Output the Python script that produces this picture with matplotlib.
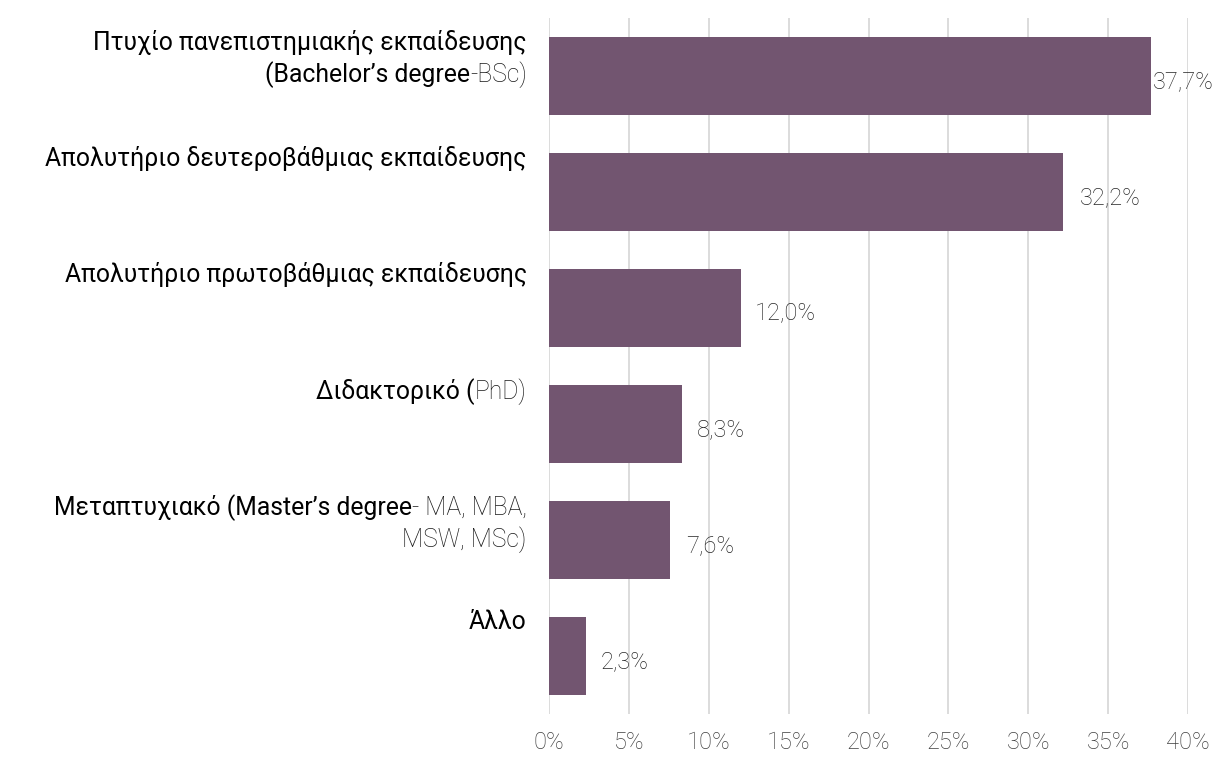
import matplotlib
matplotlib.use("Agg")
import matplotlib.pyplot as plt
from matplotlib.offsetbox import TextArea, HPacker, VPacker, AnnotationBbox

# ---- data ----
categories = [
    [[("Πτυχίο πανεπιστημιακής εκπαίδευσης", "r")],
     [("(Bachelor’s degree", "r"), ("-BSc)", "l")]],
    [[("Απολυτήριο δευτεροβάθμιας εκπαίδευσης", "r")]],
    [[("Απολυτήριο πρωτοβάθμιας εκπαίδευσης", "r")]],
    [[("Διδακτορικό (", "r"), ("PhD)", "l")]],
    [[("Μεταπτυχιακό (Master’s degree", "r"), ("- MA, MBA,", "l")],
     [("MSW, MSc)", "l")]],
    [[("Άλλο", "r")]],
]
values = [37.7, 32.2, 12.0, 8.3, 7.6, 2.3]
xticks = [0, 5, 10, 15, 20, 25, 30, 35, 40]
xtick_labels = [f"{t}%" for t in xticks]
value_labels = [f"{v:.1f}%".replace(".", ",") for v in values]

# ---- style ----
BAR = "#725570"
GRID = "#d9d9d9"
FONT = "Roboto"
plt.rcParams["font.family"] = [FONT, "DejaVu Sans"]

fig = plt.figure(figsize=(12.21, 7.6), dpi=100)
ax = fig.add_axes([549 / 1221, 1 - 714 / 760, (1188 - 549) / 1221, (714 - 18) / 760])

ypos = list(range(len(values)))
h = 0.67
ax.barh(ypos, values, height=h, color=BAR, zorder=3)
ax.set_ylim(len(values) - 0.5, -0.5)
ax.set_xlim(0, 40)
ax.set_xticks(xticks)
ax.set_xticklabels(xtick_labels, fontsize=17, color="#3f3f3f", fontweight="light")
ax.set_yticks([])
ax.tick_params(axis="x", length=0, pad=12)
ax.grid(axis="x", color=GRID, linewidth=1.3, zorder=0)
for s in ax.spines.values():
    s.set_visible(False)

# value labels
x_off = [1, 12, 10, 11, 11, 11]
for i, (v, lab) in enumerate(zip(values, value_labels)):
    ax.annotate(lab, xy=(v, i), xytext=(x_off[i], -4), textcoords="offset points",
                ha="left", va="center", fontsize=17, color="#262626",
                fontweight="light", zorder=4)

# category labels with mixed weights
styles = {
    "r": dict(fontsize=17.8, color="#000000", fontweight="normal", family=[FONT, "DejaVu Sans"]),
    "l": dict(fontsize=17.8, color="#1a1a1a", fontweight="light", family=[FONT, "DejaVu Sans"]),
}
for i, lines in enumerate(categories):
    rows = []
    for line in lines:
        parts = [TextArea(t, textprops=styles[s]) for t, s in line]
        rows.append(HPacker(children=parts, align="baseline", pad=0, sep=0))
    box = VPacker(children=rows, align="right", pad=0, sep=4)
    ab = AnnotationBbox(box, xy=(0, i - h / 2), xycoords=("axes fraction", "data"),
                        xybox=(-16, 5), boxcoords="offset points",
                        box_alignment=(1, 1), frameon=False, annotation_clip=False)
    ax.add_artist(ab)

fig.savefig("out.png", dpi=100, facecolor="white")
